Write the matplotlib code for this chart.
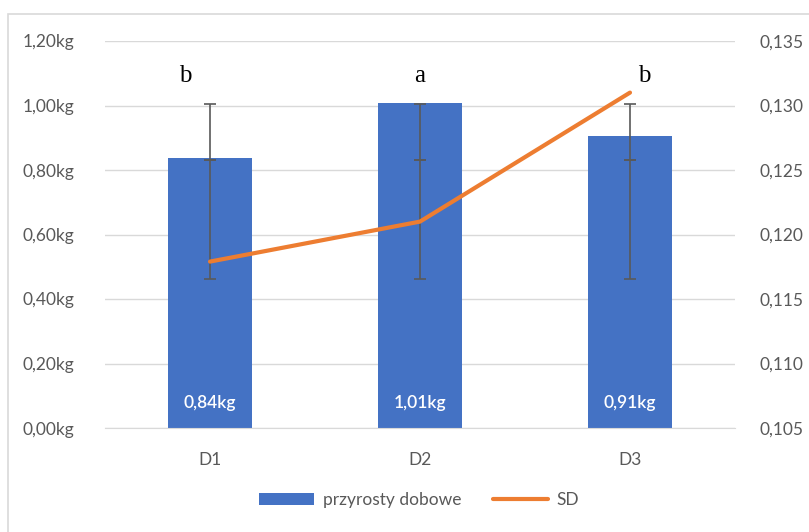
import numpy as np
import matplotlib.pyplot as plt
from matplotlib.patches import Rectangle

# dane
kategorie = ["D1", "D2", "D3"]
przyrosty = [0.838, 1.007, 0.905]          # kg / dzien
sd = [0.1179, 0.1210, 0.1310]              # os pomocnicza
err_dol = [0.462, 0.462, 0.462]
err_srodek = [0.831, 0.831, 0.831]
err_gora = [1.005, 1.005, 1.005]
litery = ["b", "a", "b"]
etykiety = ["0,84kg", "1,01kg", "0,91kg"]

niebieski = "#4472C4"
pomaranczowy = "#ED7D31"
szary = "#595959"
siatka = "#D9D9D9"

plt.rcParams['font.family'] = ['Lato', 'DejaVu Sans']

fig = plt.figure(figsize=(8.09, 5.32), dpi=100)
ax = fig.add_axes([105/809, 1-428/532, 630/809, 387/532])
x = np.arange(len(kategorie))

ax.bar(x, przyrosty, width=0.4, color=niebieski, label="przyrosty dobowe", zorder=2)

# wasy bledu - dwie czesci od srodka
srodek = np.array(err_srodek)
ax.errorbar(x, srodek, yerr=[srodek - np.array(err_dol), np.zeros(3)],
            fmt="none", ecolor=szary, elinewidth=1.2, capsize=4, capthick=1.2, zorder=3)
ax.errorbar(x, srodek, yerr=[np.zeros(3), np.array(err_gora) - srodek],
            fmt="none", ecolor=szary, elinewidth=1.2, capsize=4, capthick=1.2, zorder=3)

for xi, t in zip(x, etykiety):
    ax.text(xi, 0.077, t, color="white", ha="center", va="center", fontsize=12.5,
            fontweight="semibold", zorder=4)

ax.set_xlim(-0.5, 2.5)
ax.set_ylim(0, 1.2)
yt = np.arange(0, 1.21, 0.2)
ax.set_yticks(yt)
ax.set_yticklabels([f"{v:.2f}kg".replace(".", ",") for v in yt])
ax.set_xticks(x)
ax.set_xticklabels(kategorie)
ax.grid(axis="y", color=siatka, linewidth=1, zorder=0)
ax.set_axisbelow(True)
for s in ["left", "right", "top"]:
    ax.spines[s].set_visible(False)
ax.spines["bottom"].set_color(siatka)
ax.tick_params(axis="both", length=0, colors=szary, labelsize=12.5)
ax.tick_params(axis="y", pad=22)
ax.tick_params(axis="x", pad=17)

ax2 = ax.twinx()
ax2.plot(x, sd, color=pomaranczowy, linewidth=3, label="SD", zorder=5, solid_capstyle="round")
ax2.set_ylim(0.105, 0.135)
yt2 = np.arange(0.105, 0.1351, 0.005)
ax2.set_yticks(yt2)
ax2.set_yticklabels([f"{v:.3f}".replace(".", ",") for v in yt2])
ax2.tick_params(axis="y", length=0, colors=szary, labelsize=12.5, pad=18)
for s in ["left", "right", "top", "bottom"]:
    ax2.spines[s].set_visible(False)

przesun = [-0.12, 0.0, 0.07]
for xi, l, dx in zip(x, litery, przesun):
    ax.text(xi + dx, 1.09, l, fontsize=18, family="Liberation Serif", ha="center", va="center")

h1, l1 = ax.get_legend_handles_labels()
h2, l2 = ax2.get_legend_handles_labels()
fig.legend(h1 + h2, l1 + l2, loc="center", bbox_to_anchor=(0.518, 1-500/532), ncol=2,
           frameon=False, fontsize=12.5, labelcolor=szary, handlelength=3.2,
           handletextpad=0.5, columnspacing=1.8)

fig.patches.append(Rectangle((8/809, -0.1), 1.2, 1.1 - 14/532, transform=fig.transFigure,
                             fill=False, edgecolor=siatka, linewidth=1.2))

fig.savefig("out.png", dpi=100)
